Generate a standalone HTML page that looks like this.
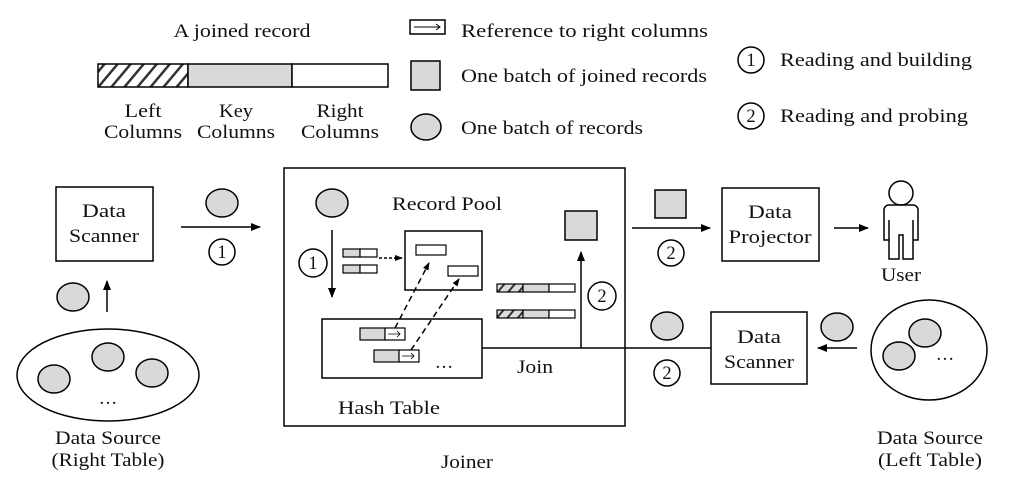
<!DOCTYPE html>
<html><head><meta charset="utf-8"><style>
html,body{margin:0;padding:0;background:#fff;}
svg{display:block;}
text{font-family:"Liberation Serif",serif;font-size:18.5px;fill:#111;}
</style></head><body>
<svg width="1020" height="486" viewBox="0 0 1020 486" xmlns="http://www.w3.org/2000/svg">
<defs>
<pattern id="h" width="10" height="10" patternUnits="userSpaceOnUse" patternTransform="rotate(40)">
<rect width="10" height="10" fill="#fff"/><rect width="2.5" height="10" fill="#333"/></pattern>
<pattern id="h2" width="8" height="8" patternUnits="userSpaceOnUse" patternTransform="rotate(40)">
<rect width="8" height="8" fill="#ddd"/><rect width="2" height="8" fill="#333"/></pattern>
<marker id="a" markerWidth="10" markerHeight="8" refX="9" refY="4" orient="auto" markerUnits="userSpaceOnUse"><path d="M0,0 L10,4 L0,8 z" fill="#000"/></marker>
<marker id="s" markerWidth="8" markerHeight="6" refX="7" refY="3" orient="auto" markerUnits="userSpaceOnUse"><path d="M0,0 L8,3 L0,6 z" fill="#000"/></marker>
</defs>
<g stroke="#000" stroke-width="1.5" fill="none">
<rect x="98" y="64" width="90" height="23" fill="url(#h)"/>
<rect x="188" y="64" width="104" height="23" fill="#d9d9d9"/>
<rect x="292" y="64" width="96" height="23" fill="#fff"/>
<rect x="410" y="20" width="35" height="14" fill="#fff"/>
<rect x="411" y="61" width="29" height="29" fill="#d9d9d9"/>
<ellipse cx="426" cy="127" rx="15" ry="13" fill="#d9d9d9"/>
<circle cx="751" cy="60" r="13"/>
<circle cx="751" cy="116" r="13"/>
<rect x="56" y="187" width="97" height="74" fill="#fff"/>
<ellipse cx="222" cy="203" rx="16" ry="14" fill="#d9d9d9"/>
<line x1="181" y1="227" x2="260" y2="227" marker-end="url(#a)"/>
<circle cx="222" cy="252" r="13"/>
<ellipse cx="73" cy="297" rx="16" ry="14" fill="#d9d9d9"/>
<line x1="107" y1="312" x2="107" y2="281" marker-end="url(#a)"/>
<ellipse cx="108" cy="375" rx="91" ry="46"/>
<ellipse cx="108" cy="357" rx="16" ry="14" fill="#d9d9d9"/>
<ellipse cx="54" cy="379" rx="16" ry="14" fill="#d9d9d9"/>
<ellipse cx="152" cy="373" rx="16" ry="14" fill="#d9d9d9"/>
<rect x="284" y="168" width="341" height="258"/>
<ellipse cx="332" cy="203" rx="16" ry="14" fill="#d9d9d9"/>
<line x1="332" y1="230" x2="332" y2="297" marker-end="url(#a)"/>
<circle cx="313" cy="263" r="14"/>
<rect x="343" y="249" width="17" height="8" fill="#d9d9d9" stroke-width="1.2"/><rect x="360" y="249" width="17" height="8" fill="#fff" stroke-width="1.2"/>
<rect x="343" y="265" width="17" height="8" fill="#d9d9d9" stroke-width="1.2"/><rect x="360" y="265" width="17" height="8" fill="#fff" stroke-width="1.2"/>
<line x1="379" y1="258" x2="402" y2="258" stroke-dasharray="3,2" marker-end="url(#s)"/>
<rect x="405" y="231" width="77" height="59"/>
<rect x="416" y="245" width="30" height="10" stroke-width="1.2"/>
<rect x="448" y="266" width="30" height="10" stroke-width="1.2"/>
<rect x="565" y="211" width="32" height="29" fill="#d9d9d9"/>
<line x1="581" y1="348" x2="581" y2="252" marker-end="url(#a)"/>
<circle cx="602" cy="296" r="14"/>
<rect x="497" y="284" width="26" height="8" fill="url(#h2)" stroke-width="1.2"/><rect x="523" y="284" width="26" height="8" fill="#d9d9d9" stroke-width="1.2"/><rect x="549" y="284" width="26" height="8" fill="#fff" stroke-width="1.2"/>
<rect x="497" y="310" width="26" height="8" fill="url(#h2)" stroke-width="1.2"/><rect x="523" y="310" width="26" height="8" fill="#d9d9d9" stroke-width="1.2"/><rect x="549" y="310" width="26" height="8" fill="#fff" stroke-width="1.2"/>
<rect x="322" y="319" width="160" height="59"/>
<rect x="360" y="328" width="25" height="12" fill="#d9d9d9" stroke-width="1.2"/><rect x="385" y="328" width="20" height="12" fill="#fff" stroke-width="1.2"/>
<rect x="374" y="350" width="25" height="12" fill="#d9d9d9" stroke-width="1.2"/><rect x="399" y="350" width="20" height="12" fill="#fff" stroke-width="1.2"/>
<line x1="395" y1="328" x2="429" y2="263" stroke-dasharray="6,4" marker-end="url(#s)"/>
<line x1="411" y1="350" x2="459" y2="279" stroke-dasharray="6,4" marker-end="url(#s)"/>
<line x1="482" y1="348" x2="711" y2="348"/>
<rect x="655" y="190" width="31" height="28" fill="#d9d9d9"/>
<line x1="632" y1="228" x2="710" y2="228" marker-end="url(#a)"/>
<circle cx="671" cy="253" r="13"/>
<rect x="722" y="188" width="97" height="73"/>
<line x1="834" y1="228" x2="868" y2="228" marker-end="url(#a)"/>
<circle cx="901" cy="193" r="12"/>
<path d="M889,205 h24 a5,5 0 0 1 5,5 v30 h-5 v19 h-10 v-24 h-4 v24 h-10 v-19 h-5 v-30 a5,5 0 0 1 5,-5 z M889,220 v20 M913,220 v20"/>
<ellipse cx="667" cy="326" rx="16" ry="14" fill="#d9d9d9"/>
<circle cx="667" cy="373" r="13"/>
<rect x="711" y="312" width="96" height="72" fill="#fff"/>
<line x1="857" y1="348" x2="818" y2="348" marker-end="url(#a)"/>
<ellipse cx="837" cy="327" rx="16" ry="14" fill="#d9d9d9"/>
<ellipse cx="929" cy="350" rx="58" ry="50"/>
<ellipse cx="925" cy="333" rx="16" ry="14" fill="#d9d9d9"/>
<ellipse cx="899" cy="356" rx="16" ry="14" fill="#d9d9d9"/>
</g>
<path d="M414,27 h26 M436,24 l4,3 l-4,3" stroke="#000" stroke-width="1" fill="none"/>
<path d="M388,334 h12 M397,331 l3,3 l-3,3 M402,356 h12 M411,353 l3,3 l-3,3" stroke="#000" stroke-width="0.8" fill="none"/>
<g text-anchor="middle">
<text x="242" y="37" textLength="137" lengthAdjust="spacingAndGlyphs">A joined record</text>
<text x="143" y="117" textLength="37" lengthAdjust="spacingAndGlyphs">Left</text><text x="143" y="138" textLength="78" lengthAdjust="spacingAndGlyphs">Columns</text>
<text x="236" y="117" textLength="34" lengthAdjust="spacingAndGlyphs">Key</text><text x="236" y="138" textLength="78" lengthAdjust="spacingAndGlyphs">Columns</text>
<text x="340" y="117" textLength="47" lengthAdjust="spacingAndGlyphs">Right</text><text x="340" y="138" textLength="78" lengthAdjust="spacingAndGlyphs">Columns</text>
<text x="751" y="66">1</text><text x="751" y="122">2</text>
<text x="104" y="217" textLength="44" lengthAdjust="spacingAndGlyphs">Data</text><text x="104" y="242" textLength="70" lengthAdjust="spacingAndGlyphs">Scanner</text>
<text x="222" y="258">1</text>
<text x="108" y="404">…</text>
<text x="108" y="444" textLength="106" lengthAdjust="spacingAndGlyphs">Data Source</text><text x="108" y="466" textLength="113" lengthAdjust="spacingAndGlyphs">(Right Table)</text>
<text x="467" y="468" textLength="52" lengthAdjust="spacingAndGlyphs">Joiner</text>
<text x="447" y="210" textLength="110" lengthAdjust="spacingAndGlyphs">Record Pool</text>
<text x="313" y="269">1</text>
<text x="602" y="302">2</text>
<text x="444" y="368">…</text>
<text x="535" y="373" textLength="36" lengthAdjust="spacingAndGlyphs">Join</text>
<text x="389" y="414" textLength="102" lengthAdjust="spacingAndGlyphs">Hash Table</text>
<text x="671" y="259">2</text>
<text x="770" y="218" textLength="44" lengthAdjust="spacingAndGlyphs">Data</text><text x="770" y="243" textLength="83" lengthAdjust="spacingAndGlyphs">Projector</text>
<text x="901" y="281" textLength="40" lengthAdjust="spacingAndGlyphs">User</text>
<text x="667" y="379">2</text>
<text x="759" y="343" textLength="44" lengthAdjust="spacingAndGlyphs">Data</text><text x="759" y="368" textLength="70" lengthAdjust="spacingAndGlyphs">Scanner</text>
<text x="945" y="360">…</text>
<text x="930" y="444" textLength="106" lengthAdjust="spacingAndGlyphs">Data Source</text><text x="930" y="466" textLength="104" lengthAdjust="spacingAndGlyphs">(Left Table)</text>
</g>
<g>
<text x="461" y="37" textLength="247" lengthAdjust="spacingAndGlyphs">Reference to right columns</text>
<text x="461" y="82" textLength="246" lengthAdjust="spacingAndGlyphs">One batch of joined records</text>
<text x="461" y="134" textLength="182" lengthAdjust="spacingAndGlyphs">One batch of records</text>
<text x="780" y="66" textLength="192" lengthAdjust="spacingAndGlyphs">Reading and building</text>
<text x="780" y="122" textLength="188" lengthAdjust="spacingAndGlyphs">Reading and probing</text>
</g>
</svg>
</body></html>
